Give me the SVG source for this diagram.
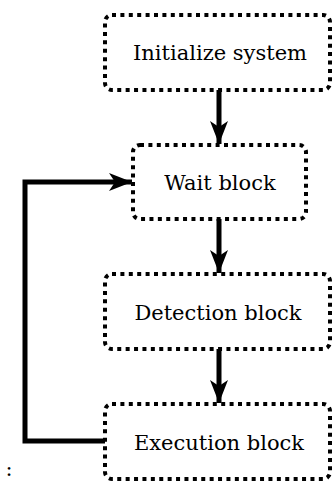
<svg xmlns="http://www.w3.org/2000/svg" width="332" height="482" viewBox="0 0 332 482">
<style>
.box{fill:#fff;stroke:#000;stroke-width:4;stroke-dasharray:4 4.4;stroke-linecap:butt}
.lbl{font-family:'DejaVu Serif','Liberation Serif',serif;font-size:21px;fill:#000;text-anchor:middle}
.conn{fill:none;stroke:#000;stroke-width:5}
</style>
<defs>
<marker id="ah" markerUnits="userSpaceOnUse" markerWidth="24" markerHeight="20" viewBox="0 0 24 20" refX="23" refY="10" orient="auto">
<path d="M0,1 L23,10 L0,19 L6,10 Z" fill="#000"/>
</marker>
</defs>
<g id="connectors">
<line class="conn" x1="219" y1="90" x2="219" y2="144" marker-end="url(#ah)"/>
<line class="conn" x1="219" y1="219" x2="219" y2="273" marker-end="url(#ah)"/>
<line class="conn" x1="219" y1="349" x2="219" y2="403" marker-end="url(#ah)"/>
<polyline class="conn" points="106,441 25,441 25,182 132,182" marker-end="url(#ah)"/>
</g>
<g id="init">
<rect class="box" x="105" y="15" width="225" height="75" rx="7"/>
<text class="lbl" x="220" y="60">Initialize system</text>
</g>
<g id="wait">
<rect class="box" x="133" y="145" width="173" height="74" rx="7"/>
<text class="lbl" x="220" y="190">Wait block</text>
</g>
<g id="detect">
<rect class="box" x="105" y="274" width="225" height="75" rx="7"/>
<text class="lbl" x="218" y="320">Detection block</text>
</g>
<g id="exec">
<rect class="box" x="105" y="404" width="225" height="75" rx="7"/>
<text class="lbl" x="219" y="450">Execution block</text>
</g>
<text class="lbl" x="9" y="476">:</text>
</svg>
